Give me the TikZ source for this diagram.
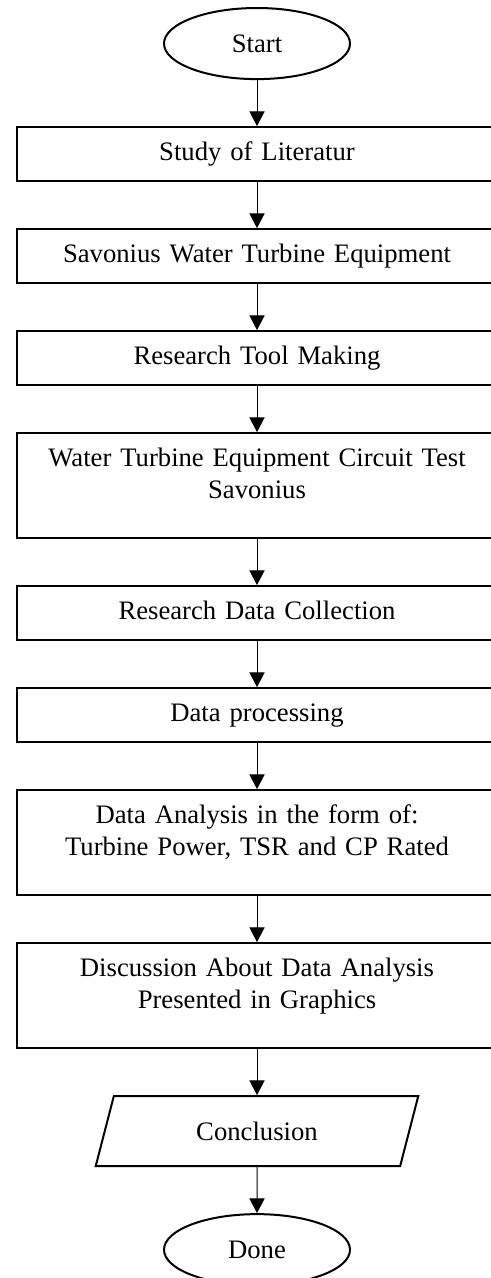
\documentclass[tikz,border=0pt]{standalone}
\usepackage{fontspec}
\setmainfont{Liberation Serif}
\usetikzlibrary{positioning,shapes.geometric,arrows.meta}

\begin{document}
\begin{tikzpicture}[->,>={Triangle[width=6.8pt,length=6.6pt]},line width=0.45pt,node distance=20.7pt,
                    every node/.style={font=\fontsize{12}{14.4}\selectfont,line width=0.9pt},
                    term node/.style={ellipse,draw,minimum width=83.7pt,minimum height=32pt},
                    step node/.style={rectangle,draw,text width=208pt,inner xsep=4.2pt,align=center,
                                      text height=8.5pt,text depth=2.5pt,minimum height=24.3pt},
                    tall node/.style={step node,text depth=25.45pt,minimum height=47.25pt},
                    io node/.style={trapezium,draw,trapezium left angle=75.6,trapezium right angle=104.4,
                                    trapezium stretches=true,minimum width=146pt,minimum height=31.5pt}]
                    \useasboundingbox (0,0) rectangle (220.95pt,-575.1pt);

                    \node[term node] (start) at (115.65pt,-19.6pt) {Start};
                    \node[step node] (lit) [below=of start] {Study of Literatur};
                    \node[step node] (equip) [below=of lit] {Savonius Water Turbine Equipment};
                    \node[step node] (tool) [below=of equip] {Research Tool Making};
                    \node[tall node] (test) [below=of tool] {Water Turbine Equipment Circuit Test\\Savonius};
                    \node[step node] (collect) [below=of test] {Research Data Collection};
                    \node[step node] (proc) [below=of collect] {Data processing};
                    \node[tall node] (analysis) [below=of proc] {Data Analysis in the form of:\\Turbine Power, TSR and CP Rated};
                    \node[tall node] (discuss) [below=of analysis] {Discussion About Data Analysis\\Presented in Graphics};
                    \node[io node] (concl) [below=of discuss] {Conclusion};
                    \node[term node] (done) [below=of concl] {Done};

                    \path
                        (start) edge (lit)
                        (lit) edge (equip)
                        (equip) edge (tool)
                        (tool) edge (test)
                        (test) edge (collect)
                        (collect) edge (proc)
                        (proc) edge (analysis)
                        (analysis) edge (discuss)
                        (discuss) edge (concl)
                        (concl) edge (done)
                        ;
                \end{tikzpicture}
\end{document}
